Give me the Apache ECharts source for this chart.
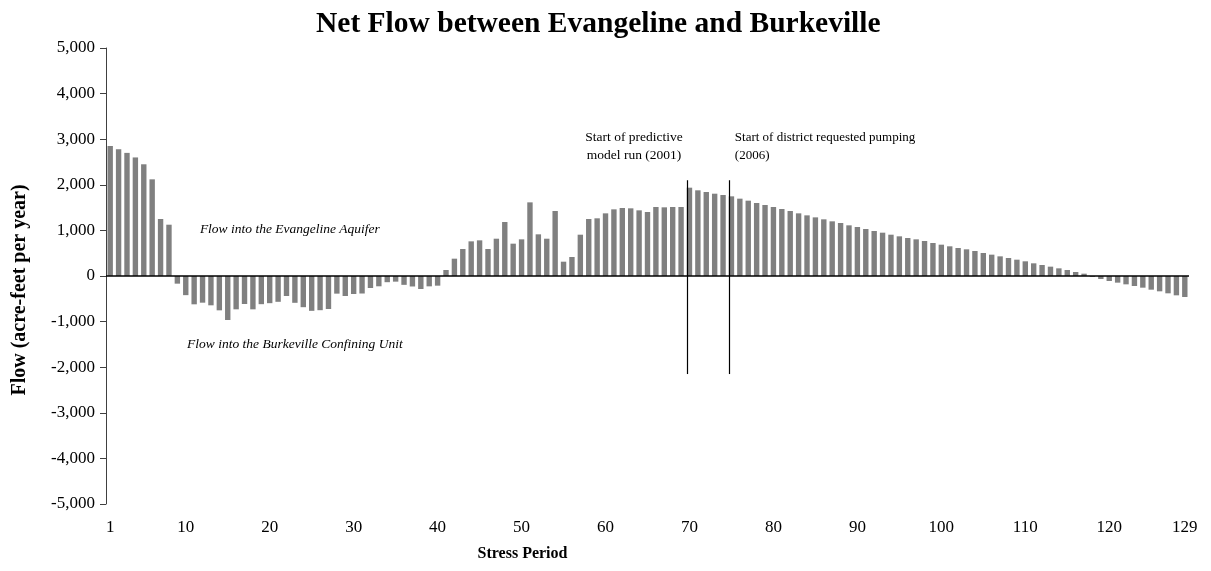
<!DOCTYPE html>
<html>
<head>
<meta charset="utf-8">
<script src="https://cdn.jsdelivr.net/npm/echarts@6/dist/echarts.min.js"></script>
<style>html,body{margin:0;padding:0;background:#fff;}#c{width:1211px;height:571px;}</style>
</head>
<body>
<div id="c"></div>
<script>
// Stress periods 1..129
var periods = [];
for (var i = 1; i <= 129; i++) periods.push(i);
// Net flow (acre-feet per year)
var flow = [
  2850, 2780, 2700, 2600, 2450, 2120, 1250, 1125,
  -168, -420, -621, -585, -643, -753, -965, -731, -614, -731, -618, -596, -566, -439, -588, -684, -764, -750, -724, -387, -439,
  -395, -384, -263, -226, -136, -124, -194, -230, -285, -227, -212,
  132, 380, 592, 760, 782, 592, 818, 1184, 709, 804, 1615, 914, 818, 1425, 314, 417, 906, 1250,
  1265, 1374, 1462, 1491, 1484, 1440, 1403, 1513, 1506, 1513, 1513,
  1937, 1879, 1842, 1805, 1776, 1747, 1696, 1652, 1601, 1557, 1513, 1469, 1425, 1374, 1330, 1286,
  1243, 1199, 1162, 1111, 1074, 1031, 987, 950, 906, 870, 833, 804, 767, 724, 687, 651, 614, 585, 548, 504, 468, 431, 395, 358, 322, 278, 241, 205, 168, 132, 88, 51, -20,
  -66, -110, -146, -183, -219, -256, -300, -336, -380, -424, -460
];
var xTickLabels = [1, 10, 20, 30, 40, 50, 60, 70, 80, 90, 100, 110, 120, 129];
var yTicks = [-5000, -4000, -3000, -2000, -1000, 0, 1000, 2000, 3000, 4000, 5000];
// Event markers: just before stress periods 70 and 75
var eventBoundaries = [69.68, 74.68];
var eventRange = [2100, -2150];

var FONT = '"Liberation Serif", "Times New Roman", serif';
var chart = echarts.init(document.getElementById('c'), null, {renderer: 'canvas'});

var barData = periods.map(function (p, i) { return [p, flow[i]]; });

var option = {
  animation: false,
  backgroundColor: '#fff',
  title: {
    text: 'Net Flow between Evangeline and Burkeville',
    left: 311,
    top: 4,
    textStyle: {fontFamily: FONT, fontWeight: 'bold', fontSize: 29.5, color: '#000'}
  },
  grid: {left: 106, right: 22, top: 48, bottom: 67, containLabel: false},
  xAxis: {
    type: 'value',
    min: 0.5, max: 129.5, interval: 0.5,
    name: 'Stress Period',
    nameLocation: 'middle',
    nameGap: 42,
    nameTextStyle: {fontFamily: FONT, fontWeight: 'bold', fontSize: 16, color: '#000', padding: [0, 250, 0, 0]},
    axisLine: {show: false, onZero: false},
    axisTick: {show: false},
    splitLine: {show: false},
    axisLabel: {
      fontFamily: FONT, fontSize: 17, color: '#000', margin: 15,
      showMinLabel: true, showMaxLabel: true,
      formatter: function (v) { return xTickLabels.indexOf(v) >= 0 ? String(v) : ''; }
    }
  },
  yAxis: {
    type: 'value',
    min: -5000, max: 5000, interval: 1000,
    name: 'Flow (acre-feet per year)',
    nameLocation: 'middle',
    nameGap: 76,
    nameRotate: 90,
    nameTextStyle: {fontFamily: FONT, fontWeight: 'bold', fontSize: 20, color: '#000', padding: [0, 28, 0, 0]},
    axisLine: {show: true, lineStyle: {color: '#404040', width: 1}},
    axisTick: {show: true, length: 6, inside: false, lineStyle: {color: '#404040', width: 1}},
    splitLine: {show: false},
    axisLabel: {
      fontFamily: FONT, fontSize: 17, color: '#000', margin: 11,
      formatter: function (v) { return yTicks.indexOf(v) >= 0 ? v.toLocaleString('en-US') : ''; }
    }
  },
  series: [{
    type: 'bar',
    data: barData,
    barWidth: 5.4,
    itemStyle: {color: '#808080'},
    silent: true,
    markLine: {
      silent: true,
      symbol: 'none',
      label: {show: false},
      animation: false,
      data: [
        [{coord: [0.5, 0], lineStyle: {color: '#000', width: 1.5, type: 'solid'}}, {coord: [129.5, 0]}],
        [{coord: [eventBoundaries[0], eventRange[0]], lineStyle: {color: '#000', width: 1.2, type: 'solid'}}, {coord: [eventBoundaries[0], eventRange[1]]}],
        [{coord: [eventBoundaries[1], eventRange[0]], lineStyle: {color: '#000', width: 1.2, type: 'solid'}}, {coord: [eventBoundaries[1], eventRange[1]]}]
      ]
    },
    markPoint: {
      silent: true,
      symbol: 'circle',
      symbolSize: 0,
      animation: false,
      label: {show: true, position: 'inside', fontFamily: FONT, fontSize: 13.5, color: '#000', lineHeight: 18},
      data: [
        {coord: [22.4, 1010], value: 'a', label: {formatter: 'Flow into the Evangeline Aquifer', fontStyle: 'italic', align: 'center'}},
        {coord: [23.0, -1510], value: 'b', label: {formatter: 'Flow into the Burkeville Confining Unit', fontStyle: 'italic', align: 'center'}},
        {coord: [63.4, 2830], value: 'c', label: {formatter: 'Start of predictive\nmodel run (2001)', align: 'center'}},
        {coord: [75.4, 2830], value: 'd', label: {formatter: 'Start of district requested pumping\n(2006)', align: 'left', fontSize: 13}}
      ]
    }
  }]
};
chart.setOption(option);
</script>
</body>
</html>
